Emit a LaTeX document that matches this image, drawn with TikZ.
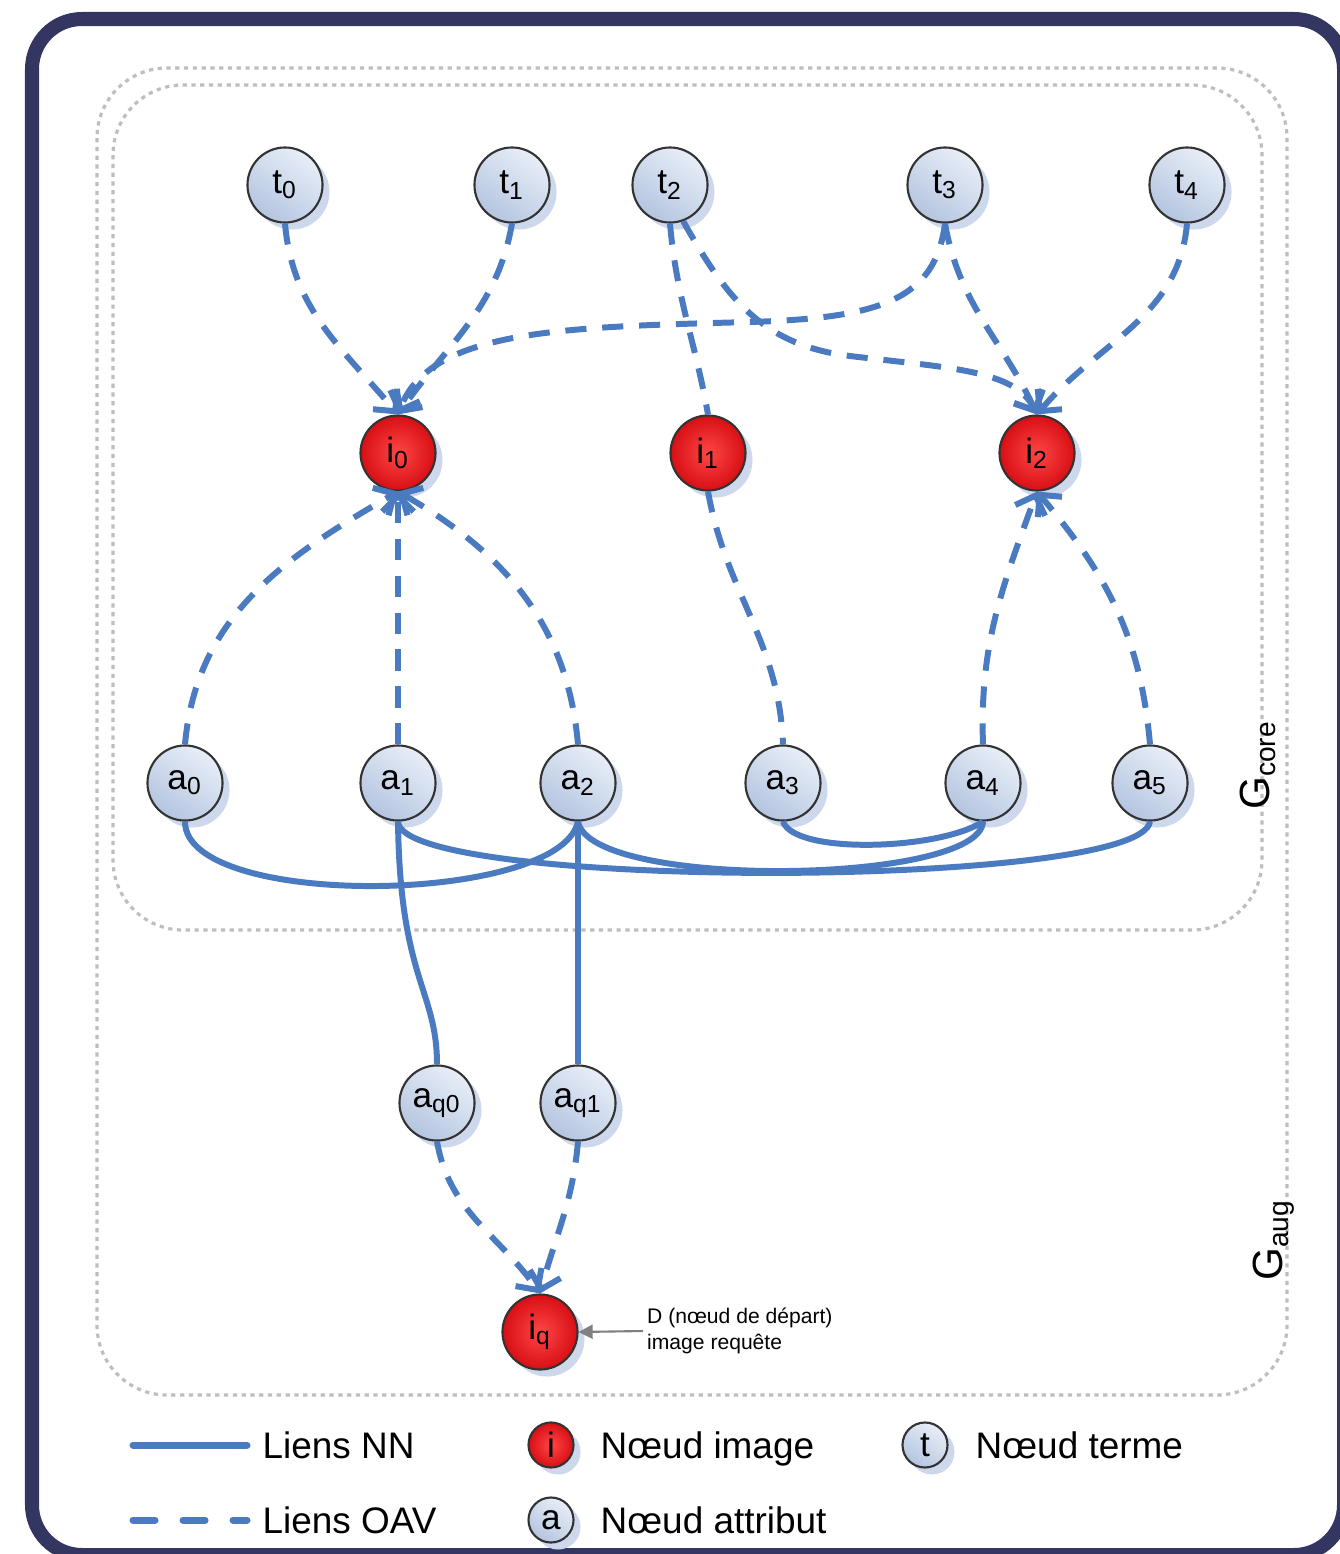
\documentclass[tikz,border=0pt]{standalone}
\usepackage{fontspec}
\setmainfont{Liberation Sans}
\usetikzlibrary{arrows.meta, shadows, calc}

\definecolor{framenavy}{RGB}{51,54,97}
\definecolor{linkblue}{RGB}{74,122,191}
\definecolor{nodelight}{RGB}{232,238,247}
\definecolor{nodedark}{RGB}{180,197,224}
\definecolor{shadowblue}{RGB}{205,216,236}
\definecolor{imglight}{RGB}{255,70,70}
\definecolor{imgdark}{RGB}{215,15,20}
\definecolor{boxgray}{RGB}{190,190,190}

\begin{document}
\begin{tikzpicture}[
  x=0.01cm, y=0.01cm,
  >={Straight Barb[length=4.5pt,width=9pt]},
  bluenode/.style={circle, draw=black!80, line width=0.6pt, minimum size=0.75cm,
    inner sep=0pt, top color=nodelight, bottom color=nodedark, shading angle=-35,
    drop shadow={shadow xshift=0.07cm, shadow yshift=-0.07cm, fill=shadowblue, opacity=1},
    font=\fontsize{10}{12}\selectfont},
  imgnode/.style={bluenode, inner color=imglight, outer color=imgdark},
  smallnode/.style={minimum size=0.45cm, font=\fontsize{10}{12}\selectfont,
    drop shadow={shadow xshift=0.05cm, shadow yshift=-0.05cm, fill=shadowblue, opacity=1}},
  oav/.style={draw=linkblue, line width=1.7pt, dash pattern=on 6pt off 4.5pt},
  nn/.style={draw=linkblue, line width=1.7pt},
  grpbox/.style={draw=boxgray, line width=0.9pt, dash pattern=on 1.2pt off 1.3pt, rounded corners=0.7cm},
  legtext/.style={anchor=base west, inner sep=0pt, font=\fontsize{10.5}{12}\selectfont}
]
  \useasboundingbox (0,-1554) rectangle (1340,0);
  \clip (0,-1554) rectangle (1340,0);
  \fill[white] (0,-1554) rectangle (1340,0);
  \draw[framenavy, line width=0.14cm, rounded corners=0.5cm] (32,-19) rectangle (1344,-1555);

  % G_aug and G_core
  \draw[grpbox] (97,-68) rectangle (1287,-1395);
  \draw[grpbox] (113,-85) rectangle (1262,-930);
  \node[rotate=90, font=\fontsize{12}{14}\selectfont] (gcore) at (1258,-765) {G\textsubscript{core}};
  \node[rotate=90, font=\fontsize{12}{14}\selectfont] (gaug) at (1274,-1240) {G\textsubscript{aug}};

  % terms
  \node[bluenode] (t0) at (285,-185) {t\textsubscript{0}};
  \node[bluenode] (t1) at (512,-185) {t\textsubscript{1}};
  \node[bluenode] (t2) at (670,-185) {t\textsubscript{2}};
  \node[bluenode] (t3) at (945,-185) {t\textsubscript{3}};
  \node[bluenode] (t4) at (1187,-185) {t\textsubscript{4}};

  % images
  \node[imgnode] (i0) at (398,-453) {i\textsubscript{0}};
  \node[imgnode] (i1) at (708,-453) {i\textsubscript{1}};
  \node[imgnode] (i2) at (1037,-453) {i\textsubscript{2}};

  % attributes
  \node[bluenode] (a0) at (185,-783) {a\textsubscript{0}};
  \node[bluenode] (a1) at (398,-783) {a\textsubscript{1}};
  \node[bluenode] (a2) at (578,-783) {a\textsubscript{2}};
  \node[bluenode] (a3) at (783,-783) {a\textsubscript{3}};
  \node[bluenode] (a4) at (983,-783) {a\textsubscript{4}};
  \node[bluenode] (a5) at (1150,-783) {a\textsubscript{5}};
  \node[bluenode] (aq0) at (437,-1103) {a\textsubscript{q0}};
  \node[bluenode] (aq1) at (578,-1103) {a\textsubscript{q1}};
  \node[imgnode] (iq) at (540,-1332) {i\textsubscript{q}};

  % OAV links
  \draw[oav, ->] (t0.south) to[out=-85, in=130] (i0.north);
  \draw[oav, ->] (t1.south) to[out=-100, in=55] (i0.north);
  \draw[oav, ->] (t3.south) .. controls (935,-300) and (880,-318) .. (750,-322)
    .. controls (560,-327) and (430,-330) .. (i0.north);
  \draw[oav] (t2.south) to[out=-85, in=100] (i1.north);
  \draw[oav, ->] (t2.-70) .. controls (725,-295) and (760,-345) .. (850,-356)
    .. controls (950,-368) and (1015,-370) .. (i2.north);
  \draw[oav, ->] (t3.south) to[out=-80, in=115] (i2.north);
  \draw[oav, ->] (t4.south) to[out=-95, in=50] (i2.north);

  \draw[oav, ->] (a0.north) to[out=85, in=-150] (i0.south);
  \draw[oav, ->] (a1.north) -- (i0.south);
  \draw[oav, ->] (a2.north) to[out=95, in=-30] (i0.south);
  \draw[oav] (i1.south) to[out=-80, in=92] (a3.north);
  \draw[oav, ->] (a4.north) to[out=92, in=-110] (i2.south);
  \draw[oav, ->] (a5.north) to[out=95, in=-50] (i2.south);

  \draw[oav, ->] (aq0.south) to[out=-80, in=125] (iq.north);
  \draw[oav, ->] (aq1.south) to[out=-95, in=75] (iq.north);

  % NN links
  \draw[nn] (a0.south) .. controls (185,-910) and (560,-905) .. (a2.south);
  \draw[nn] (a1.south) .. controls (400,-890) and (1140,-890) .. (a5.south);
  \draw[nn] (a2.south) .. controls (590,-890) and (980,-885) .. (a4.south);
  \draw[nn] (a3.south) .. controls (795,-855) and (940,-850) .. (a4.south);
  \draw[nn] (a1.south) .. controls (400,-980) and (437,-990) .. (aq0.north);
  \draw[nn] (a2.south) -- (aq1.north);

  % start node note
  \node[anchor=west, align=left, inner sep=1pt, font=\fontsize{6}{7.5}\selectfont] (note) at (643,-1331)
    {D (nœud de départ)\\image requête};
  \draw[gray, line width=0.6pt, -{Triangle[length=4pt,width=4pt]}] (note.west) -- (iq.east);

  % legend
  \coordinate (nnA) at (133,-1445);
  \coordinate (nnB) at (247,-1445);
  \coordinate (oavA) at (133,-1520);
  \coordinate (oavB) at (247,-1520);
  \draw[nn, line width=0.07cm, line cap=round] (nnA) -- (nnB);
  \draw[nn, line width=0.07cm, line cap=round, dash pattern=on 0.22cm off 0.28cm] (oavA) -- (oavB);
  \node[legtext] (lnn) at (262,-1458) {Liens NN};
  \node[legtext] (loav) at (262,-1533) {Liens OAV};
  \node[imgnode, smallnode] (li) at (551,-1445) {i};
  \node[legtext] (lli) at (600,-1458) {Nœud image};
  \node[bluenode, smallnode] (la) at (551,-1520) {a};
  \node[legtext] (lla) at (600,-1533) {Nœud attribut};
  \node[bluenode, smallnode] (lt) at (925,-1445) {t};
  \node[legtext] (llt) at (975,-1458) {Nœud terme};
\end{tikzpicture}
\end{document}
